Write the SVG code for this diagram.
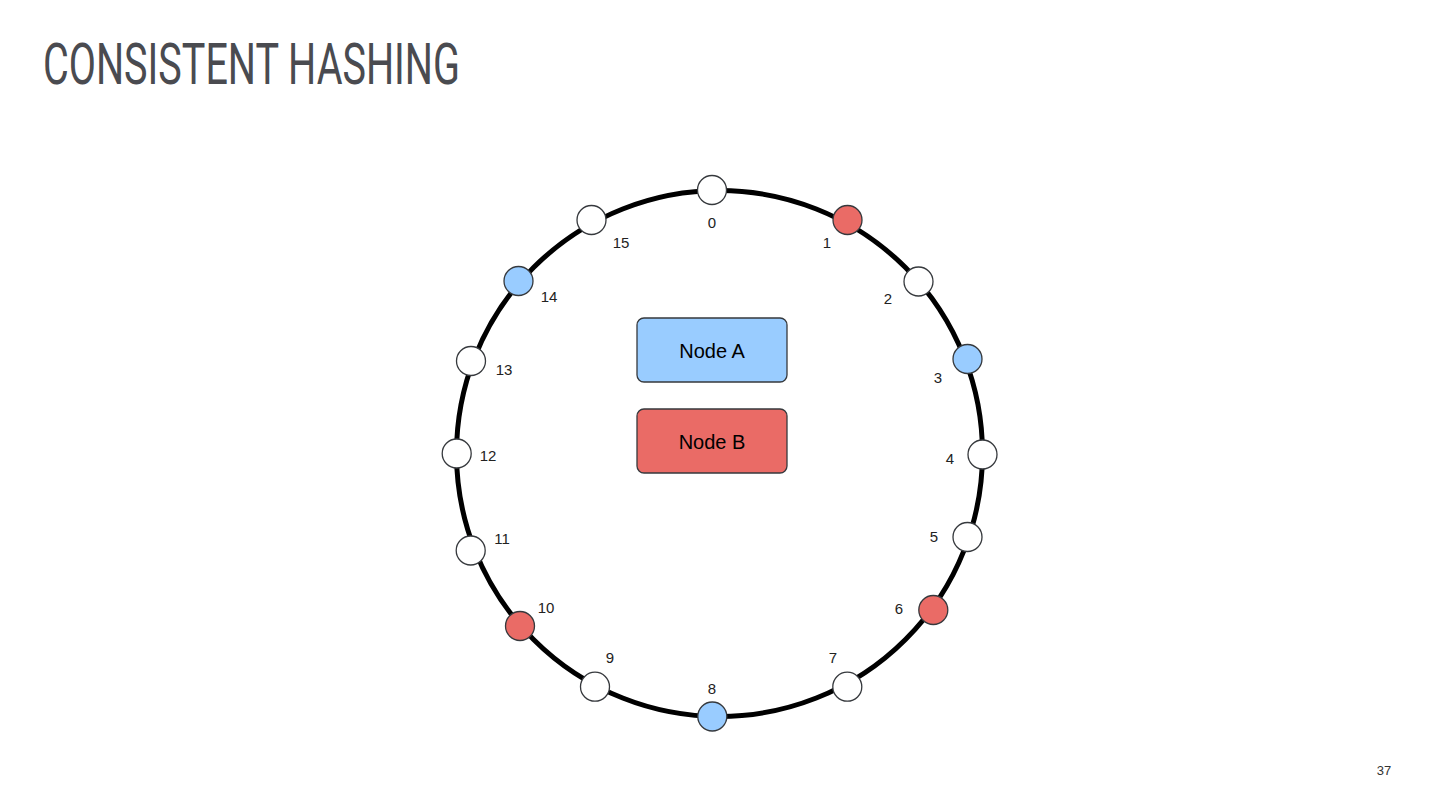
<svg xmlns="http://www.w3.org/2000/svg" width="1440" height="810" viewBox="0 0 1440 810">
<style>
.slot{stroke:#36393d;stroke-width:1.3}
.w{fill:#ffffff}
.b{fill:#99ccff}
.r{fill:#ea6b66}
.lbl{font-family:"Liberation Sans",Arial,sans-serif;font-size:15px;fill:#222;text-anchor:middle;dominant-baseline:central}
.box{stroke:#36393d;stroke-width:1.3}
.boxt{font-family:"Liberation Sans",Arial,sans-serif;font-size:20px;fill:#000;text-anchor:middle;dominant-baseline:central}
</style>
<rect width="1440" height="810" fill="#ffffff"/>
<text x="43" y="84" font-family="Roboto, 'DejaVu Sans Condensed', sans-serif" font-weight="400" font-size="58" fill="#4a4b50" textLength="417" lengthAdjust="spacingAndGlyphs">CONSISTENT HASHING</text>
<g id="connectors">
<circle cx="719.5" cy="453.5" r="263" fill="none" stroke="#000" stroke-width="5"/>
</g>
<g id="slot-0"><circle class="slot w" cx="712" cy="190" r="14.5"/><text class="lbl" x="712" y="222">0</text></g>
<g id="slot-1"><circle class="slot r" cx="847.5" cy="220" r="14.5"/><text class="lbl" x="827" y="242">1</text></g>
<g id="slot-2"><circle class="slot w" cx="918.5" cy="281.5" r="14.5"/><text class="lbl" x="888" y="298">2</text></g>
<g id="slot-3"><circle class="slot b" cx="967.5" cy="359" r="14.5"/><text class="lbl" x="938" y="377">3</text></g>
<g id="slot-4"><circle class="slot w" cx="982.5" cy="454.5" r="14.5"/><text class="lbl" x="950" y="458">4</text></g>
<g id="slot-5"><circle class="slot w" cx="967.5" cy="537" r="14.5"/><text class="lbl" x="934" y="536">5</text></g>
<g id="slot-6"><circle class="slot r" cx="933.3" cy="610" r="14.5"/><text class="lbl" x="899" y="608">6</text></g>
<g id="slot-7"><circle class="slot w" cx="847.3" cy="686.7" r="14.5"/><text class="lbl" x="833" y="657">7</text></g>
<g id="slot-8"><circle class="slot b" cx="712.3" cy="716.5" r="14.5"/><text class="lbl" x="712" y="688">8</text></g>
<g id="slot-9"><circle class="slot w" cx="595" cy="686.7" r="14.5"/><text class="lbl" x="610" y="657">9</text></g>
<g id="slot-10"><circle class="slot r" cx="520" cy="626" r="14.5"/><text class="lbl" x="546" y="607">10</text></g>
<g id="slot-11"><circle class="slot w" cx="470.7" cy="550.5" r="14.5"/><text class="lbl" x="502" y="538">11</text></g>
<g id="slot-12"><circle class="slot w" cx="456.7" cy="453.5" r="14.5"/><text class="lbl" x="488" y="455">12</text></g>
<g id="slot-13"><circle class="slot w" cx="471" cy="361" r="14.5"/><text class="lbl" x="504" y="369">13</text></g>
<g id="slot-14"><circle class="slot b" cx="518.5" cy="281" r="14.5"/><text class="lbl" x="549" y="296">14</text></g>
<g id="slot-15"><circle class="slot w" cx="591.5" cy="220" r="14.5"/><text class="lbl" x="621" y="242">15</text></g>
<g id="node-a"><rect class="box b" x="637" y="318" width="150" height="64" rx="7"/><text class="boxt" x="712" y="351">Node A</text></g>
<g id="node-b"><rect class="box r" x="637" y="409" width="150" height="64" rx="7"/><text class="boxt" x="712" y="442">Node B</text></g>
<text x="1384" y="775" font-family="'Liberation Sans',Arial,sans-serif" font-size="13" fill="#333" text-anchor="middle">37</text>
</svg>
